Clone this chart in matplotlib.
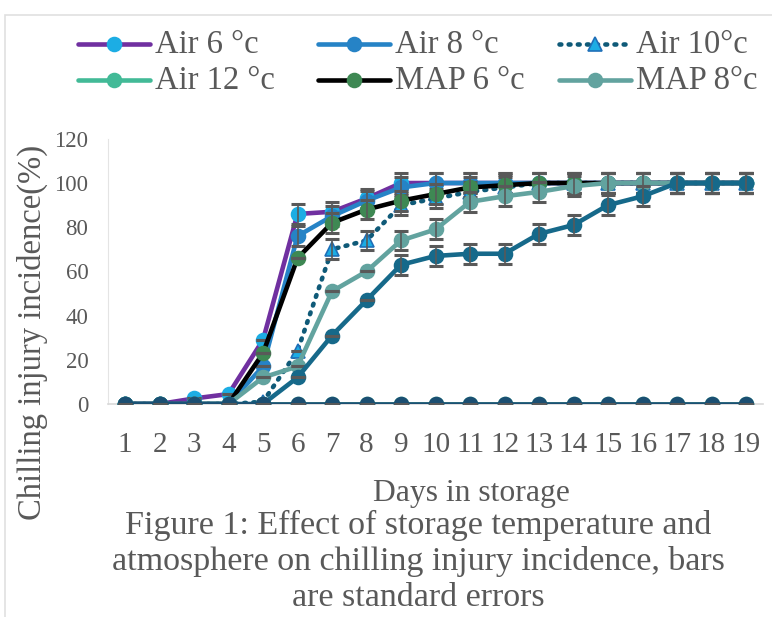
import matplotlib
matplotlib.use("Agg")
import matplotlib.pyplot as plt
from matplotlib.patches import Rectangle
from matplotlib.lines import Line2D

plt.rcParams['font.family'] = ['Liberation Serif', 'DejaVu Serif']

days = list(range(1, 20))

air6  = [0, 0, 2.5, 4.5, 29, 86, 87, 93, 100, 100, 100, 100, 100, 100, 100, 100, 100, 100, 100]
air8  = [0, 0, 0, 0, 17, 76, 85, 92, 98, 100, 100, 100, 100, 100, 100, 100, 100, 100, 100]
air10 = [0, 0, 0, 0, 1, 24, 70, 74, 90, 93, 96, 98, 100, 100, 100, 100, 100, 100, 100]
air12 = [0] * 19
map6  = [0, 0, 0, 0, 23, 66, 82, 88, 92, 95, 98, 99, 100, 100, 100, 100, 100, 100, 100]
map8  = [0, 0, 0, 0, 12, 17, 51, 60, 74, 79, 91.5, 94, 96, 98.6, 100, 100, 100, 100, 100]
map10 = [0, 0, 0, 0, 0, 12, 31, 47, 63, 67, 68, 68, 77, 81, 90, 94, 100, 100, 100]
map12 = [0] * 19

se_air6  = [0, 0, 0, 0, 0, 4.5, 4.5, 4.5, 4.5, 4.5, 4.5, 4.5, 4.5, 4.5, 4.5, 4.5, 4.5, 4.5, 4.5]
se_air8  = [0, 0, 0, 0, 0, 4.5, 4.5, 4.5, 4.5, 4.5, 4.5, 4.5, 4.5, 4.5, 4.5, 4.5, 4.5, 4.5, 4.5]
se_air10 = [0, 0, 0, 0, 0, 0, 4.5, 4.5, 4.5, 4.5, 4.5, 4.5, 4.5, 4.5, 4.5, 4.5, 4.5, 4.5, 4.5]
se_air12 = [0] * 19
se_map6  = [0, 0, 0, 0, 0, 0, 4.5, 4.5, 4.5, 4.5, 4.5, 4.5, 4.5, 4.5, 4.5, 4.5, 4.5, 4.5, 4.5]
se_map8  = [0, 0, 0, 0, 0, 0, 0, 0, 4.5, 4.5, 4.5, 4.5, 4.5, 4.5, 4.5, 4.5, 4.5, 4.5, 4.5]
se_map10 = [0, 0, 0, 0, 0, 0, 0, 0, 4.5, 4.5, 4.5, 4.5, 4.5, 4.5, 4.5, 4.5, 4.5, 4.5, 4.5]
se_map12 = [0] * 19

labels = ["Air 6 °c", "Air 8 °c", "Air 10°c", "Air 12 °c", "MAP 6 °c", "MAP 8°c", None, None]
yticks = [0, 20, 40, 60, 80, 100, 120]

W, H = 772, 617
fig = plt.figure(figsize=(W / 100, H / 100), dpi=100)
ax = fig.add_axes([0.1396, 0.3452, 0.8491, 0.4298])

series = [
    (air6, se_air6, dict(color="#7030A0", marker="o", mfc="#1CADE4", mec="#1CADE4", ls="-")),
    (air8, se_air8, dict(color="#2683C6", marker="o", mfc="#2683C6", mec="#2683C6", ls="-")),
    (air10, se_air10, dict(color="#0F5A78", marker="^", mfc="#1CADE4", mec="#1F6FB8", ls=(0, (0.4, 1.6)), dash_capstyle="round")),
    (air12, se_air12, dict(color="#42BA97", marker="o", mfc="#42BA97", mec="#42BA97", ls="-")),
    (map6, se_map6, dict(color="#000000", marker="o", mfc="#3E8853", mec="#3E8853", ls="-")),
    (map8, se_map8, dict(color="#62A39F", marker="o", mfc="#62A39F", mec="#62A39F", ls="-")),
    (map10, se_map10, dict(color="#16698A", marker="o", mfc="#16698A", mec="#16698A", ls="-")),
    (map12, se_map12, dict(color="#1B4F72", marker="o", mfc="#1B4F72", mec="#1B4F72", ls="-")),
]

for i, (vals, se, st) in enumerate(series):
    z = 3 + i
    ms = 10 if st["marker"] == "o" else 9.5
    ax.plot(days, vals, lw=3.3, ms=ms, zorder=z, mew=1.2, solid_capstyle="round", **st)
    ax.errorbar(days, vals, yerr=se, fmt="none", ecolor="#595959", elinewidth=1.2,
                capsize=5, capthick=2.2, zorder=z + 0.5)

ax.set_xlim(0.5, 19.5)
ax.set_ylim(0, 120)
ax.set_xticks(days)
ax.set_xticklabels([str(d) for d in days])
ax.set_yticks(yticks)
ax.tick_params(axis="both", length=0, colors="#595959")
ax.tick_params(axis="x", pad=20, labelsize=21)
ax.tick_params(axis="y", pad=14, labelsize=16.5)
for s in ["top", "right"]:
    ax.spines[s].set_visible(False)
ax.spines["left"].set_color("#E4E4E4")
ax.spines["bottom"].set_color("#D9D9D9")
ax.spines["bottom"].set_linewidth(1.2)
for lab in ax.get_xticklabels() + ax.get_yticklabels():
    lab.set_color("#595959")

def px(x, y):
    return x / W, 1 - y / H

fig.text(*px(32, 332), "Chilling injury incidence(%)", rotation=90, fontsize=23.5,
         color="#595959", ha="center", va="center")
fig.text(*px(471, 494), "Days in storage", fontsize=22.8, color="#595959",
         ha="center", va="center")
caption = ["Figure 1: Effect of storage temperature and",
           "atmosphere on chilling injury incidence, bars",
           "are standard errors"]
for k, line in enumerate(caption):
    fig.text(*px(418, 525 + 36.5 * k), line, fontsize=24.5, color="#595959",
             ha="center", va="center")

# legend, laid out as in the reference (row-major, 3 columns)
col_x = [78, 318, 559]
row_y = [44, 80]
for i, lab in enumerate(labels):
    if lab is None:
        continue
    st = series[i][2]
    r, c = divmod(i, 3)
    x0, y0 = col_x[c], row_y[r]
    xs = [x0 / W, (x0 + 72) / W]
    ys = [1 - y0 / H] * 2
    fig.add_artist(Line2D(xs, ys, transform=fig.transFigure, lw=3.3,
                          solid_capstyle="round", color=st["color"], ls=st["ls"],
                          dash_capstyle="round"))
    ms = 10 if st["marker"] == "o" else 9.5
    fig.add_artist(Line2D([(x0 + 36) / W], [1 - y0 / H], transform=fig.transFigure,
                          ls="none", marker=st["marker"], ms=ms, mfc=st["mfc"],
                          mec=st["mec"], mew=1.2))
    fig.text((x0 + 77) / W, 1 - (y0 + 1) / H, lab, fontsize=23.5, color="#595959",
             ha="left", va="center")

fig.patches.append(Rectangle((0.007, -0.05), 1.2, 1.025, transform=fig.transFigure,
                             fill=False, edgecolor="#E0E0E0", lw=1.2))

fig.savefig("out.png", dpi=100)
